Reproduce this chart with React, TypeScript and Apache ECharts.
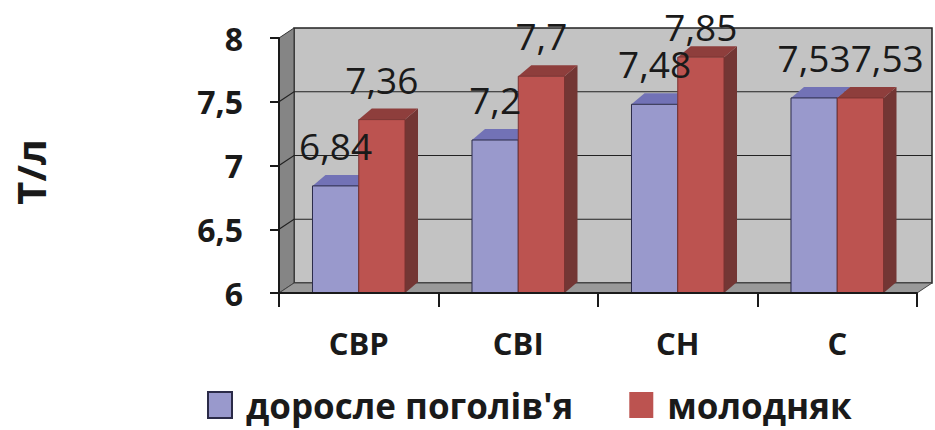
import React, { useEffect, useRef } from 'react';
import * as echarts from 'echarts';

const categories = ['СВР', 'СВІ', 'СН', 'С'];
const adultValues = [6.84, 7.2, 7.48, 7.53];
const youngValues = [7.36, 7.7, 7.85, 7.53];
const seriesNames = ["доросле поголів'я", 'молодняк'];
const axisTitle = 'Т/л';
const yMin = 6;
const yMax = 8;
const yStep = 0.5;

const FONT = "'Open Sans', 'DejaVu Sans', sans-serif";
const TEXT = '#1a1a1a';
const WALL_DX = 15;
const WALL_DY = -10;
const BAR_DX = 13;
const BAR_DY = -11;
const BAR_RATIO = 0.29;
const LABEL_FONT_SIZE = 37;
const LABEL_RISE = 11;
const LABEL_MIN_BOTTOM = 45;

const fmt = (v: number) => String(v).replace('.', ',');

let measureCtx: CanvasRenderingContext2D | null = null;
const measure = (s: string) => {
  if (!measureCtx) measureCtx = document.createElement('canvas').getContext('2d');
  if (!measureCtx) return s.length * LABEL_FONT_SIZE * 0.5;
  measureCtx.font = `${LABEL_FONT_SIZE}px ${FONT}`;
  return measureCtx.measureText(s).width;
};

const barColors = [
  { front: '#9999CC', top: '#7272B6', side: '#5E5E95', border: '#2b2b48' },
  { front: '#BC5350', top: '#8E3E3C', side: '#733634', border: '#7a3331' },
];

const makeBarRender = (k: number) => (params: any, api: any) => {
  const cat = api.value(0);
  const v = api.value(1);
  const [cx, yv] = api.coord([cat, v]);
  const yb = api.coord([cat, yMin])[1];
  const bw = api.size([1, 0])[0] * BAR_RATIO;
  const xl = k === 0 ? cx - bw : cx;
  const xr = xl + bw;
  const c = barColors[k];
  return {
    type: 'group',
    children: [
      {
        type: 'polygon',
        shape: { points: [[xr, yv], [xr + BAR_DX, yv + BAR_DY], [xr + BAR_DX, yb + BAR_DY], [xr, yb]] },
        style: { fill: c.side },
      },
      {
        type: 'polygon',
        shape: { points: [[xl, yv], [xl + BAR_DX, yv + BAR_DY], [xr + BAR_DX, yv + BAR_DY], [xr, yv]] },
        style: { fill: c.top },
      },
      {
        type: 'rect',
        shape: { x: xl, y: yv, width: bw, height: yb - yv },
        style: { fill: c.front, stroke: c.border, lineWidth: 1 },
      },
    ],
  };
};

const renderBackground = (params: any, api: any) => {
  const cs = params.coordSys;
  const left = cs.x;
  const right = cs.x + cs.width;
  const top = cs.y;
  const bottom = cs.y + cs.height;
  const children: any[] = [
    {
      type: 'rect',
      shape: { x: left + WALL_DX, y: top + WALL_DY, width: cs.width, height: cs.height },
      style: { fill: '#C3C3C3', stroke: '#222', lineWidth: 1.5 },
    },
    {
      type: 'polygon',
      shape: { points: [[left, top], [left + WALL_DX, top + WALL_DY], [left + WALL_DX, bottom + WALL_DY], [left, bottom]] },
      style: { fill: '#858585', stroke: '#333', lineWidth: 1 },
    },
    {
      type: 'polygon',
      shape: { points: [[left, bottom], [left + WALL_DX, bottom + WALL_DY], [right + WALL_DX, bottom + WALL_DY], [right, bottom]] },
      style: { fill: '#999999', stroke: '#444', lineWidth: 1 },
    },
  ];
  for (let v = yMin + yStep; v < yMax - 1e-9; v += yStep) {
    const y = api.coord([0, v])[1];
    children.push({
      type: 'polyline',
      shape: { points: [[left, y], [left + WALL_DX, y + WALL_DY], [right + WALL_DX, y + WALL_DY]] },
      style: { stroke: '#222', lineWidth: 1.2, fill: null },
    });
  }
  return { type: 'group', children };
};

const renderLabels = (params: any, api: any) => {
  const cat = api.value(0);
  const vals = [api.value(1), api.value(2)];
  const bw = api.size([1, 0])[0] * BAR_RATIO;
  const cx = api.coord([cat, yMin])[0];
  const texts = vals.map(fmt);
  const widths = texts.map(measure);
  const centers = [cx - bw / 2, cx + bw / 2];
  const bottoms = vals.map((v) => Math.max(api.coord([cat, v])[1] + BAR_DY - LABEL_RISE, LABEL_MIN_BOTTOM));
  const minDist = (widths[0] + widths[1]) / 2;
  if (Math.abs(bottoms[0] - bottoms[1]) < LABEL_FONT_SIZE * 0.8 && centers[1] - centers[0] < minDist) {
    centers[1] = centers[0] + minDist;
  }
  return {
    type: 'group',
    children: texts.map((t, i) => ({
      type: 'text',
      x: centers[i],
      y: bottoms[i],
      style: {
        text: t,
        fill: TEXT,
        font: `${LABEL_FONT_SIZE}px ${FONT}`,
        align: 'center',
        verticalAlign: 'bottom',
      },
    })),
  };
};

export default function App() {
  const ref = useRef<HTMLDivElement>(null);
  useEffect(() => {
    document.body.style.margin = '0';
    if (!ref.current) return;
    const chart = echarts.init(ref.current, null, { renderer: 'svg' });
    chart.setOption({
      animation: false,
      backgroundColor: '#ffffff',
      grid: { left: 279, right: 18, top: 38, bottom: 137 },
      xAxis: {
        type: 'category',
        data: categories,
        z: 5,
        axisLine: { lineStyle: { color: TEXT, width: 2 } },
        axisTick: { show: true, length: 14, lineStyle: { color: TEXT, width: 2 } },
        axisLabel: { fontFamily: FONT, fontSize: 31, fontWeight: 'bold', color: TEXT, margin: 34 },
        splitLine: { show: false },
      },
      yAxis: {
        type: 'value',
        min: yMin,
        max: yMax,
        interval: yStep,
        z: 5,
        axisLine: { show: true, lineStyle: { color: TEXT, width: 2 } },
        axisTick: { show: true, length: 9, lineStyle: { color: TEXT, width: 2 } },
        splitLine: { show: false },
        axisLabel: {
          formatter: (v: number) => fmt(v),
          fontFamily: FONT,
          fontSize: 32,
          fontWeight: 'bold',
          color: TEXT,
          margin: 36,
        },
      },
      legend: {
        data: [
          { name: seriesNames[0], itemStyle: { borderColor: '#2b2b48', borderWidth: 2 } },
          { name: seriesNames[1] },
        ],
        left: 207,
        top: 385,
        padding: 0,
        icon: 'rect',
        itemWidth: 24,
        itemHeight: 26,
        itemGap: 56,
        textStyle: { fontFamily: FONT, fontSize: 35, fontWeight: 'bold', color: TEXT, padding: [0, 0, 0, 9], lineHeight: 40 },
      },
      graphic: [
        {
          type: 'text',
          x: 30,
          y: 172,
          rotation: Math.PI / 2,
          style: {
            text: axisTitle,
            font: `bold 40px ${FONT}`,
            fill: TEXT,
            align: 'center',
            verticalAlign: 'middle',
          },
        },
      ],
      series: [
        {
          type: 'custom',
          name: 'bg',
          z: 1,
          silent: true,
          renderItem: renderBackground,
          data: [[0, yMin]],
          encode: { x: 0, y: 1 },
        },
        {
          type: 'custom',
          name: seriesNames[0],
          z: 2,
          itemStyle: { color: barColors[0].front },
          renderItem: makeBarRender(0),
          data: adultValues.map((v, i) => [i, v]),
          encode: { x: 0, y: 1 },
        },
        {
          type: 'custom',
          name: seriesNames[1],
          z: 3,
          itemStyle: { color: barColors[1].front },
          renderItem: makeBarRender(1),
          data: youngValues.map((v, i) => [i, v]),
          encode: { x: 0, y: 1 },
        },
        {
          type: 'custom',
          name: 'labels',
          z: 4,
          silent: true,
          renderItem: renderLabels,
          data: categories.map((c, i) => [i, adultValues[i], youngValues[i]]),
          encode: { x: 0, y: 1 },
        },
      ],
    });
    return () => chart.dispose();
  }, []);
  return <div ref={ref} style={{ width: 935, height: 430 }} />;
}
